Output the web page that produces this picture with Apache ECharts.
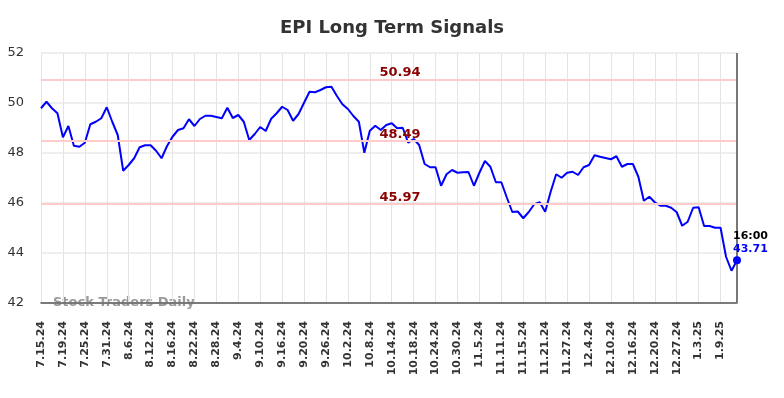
<!DOCTYPE html>
<html>
<head>
    <meta charset="utf-8">
    <style>
        html, body { margin: 0; padding: 0; background: #fff; }
        #chart { width: 784px; height: 398px; }
    </style>
    <script src="https://cdn.jsdelivr.net/npm/echarts@6/dist/echarts.min.js"></script>
</head>
<body>
<div id="chart"></div>
<script>
// trading days
var dates = [
  '7.15.24','7.16.24','7.17.24','7.18.24','7.19.24','7.22.24','7.23.24','7.24.24','7.25.24','7.26.24','7.29.24','7.30.24','7.31.24',
  '8.1.24','8.2.24','8.5.24','8.6.24','8.7.24','8.8.24','8.9.24','8.12.24','8.13.24','8.14.24','8.15.24','8.16.24','8.19.24','8.20.24','8.21.24','8.22.24','8.23.24','8.26.24','8.27.24','8.28.24','8.29.24','8.30.24',
  '9.3.24','9.4.24','9.5.24','9.6.24','9.9.24','9.10.24','9.11.24','9.12.24','9.13.24','9.16.24','9.17.24','9.18.24','9.19.24','9.20.24','9.23.24','9.24.24','9.25.24','9.26.24','9.27.24','9.30.24',
  '10.1.24','10.2.24','10.3.24','10.4.24','10.7.24','10.8.24','10.9.24','10.10.24','10.11.24','10.14.24','10.15.24','10.16.24','10.17.24','10.18.24','10.21.24','10.22.24','10.23.24','10.24.24','10.25.24','10.28.24','10.29.24','10.30.24','10.31.24',
  '11.1.24','11.4.24','11.5.24','11.6.24','11.7.24','11.8.24','11.11.24','11.12.24','11.13.24','11.14.24','11.15.24','11.18.24','11.19.24','11.20.24','11.21.24','11.22.24','11.25.24','11.26.24','11.27.24','11.29.24',
  '12.2.24','12.3.24','12.4.24','12.5.24','12.6.24','12.9.24','12.10.24','12.11.24','12.12.24','12.13.24','12.16.24','12.17.24','12.18.24','12.19.24','12.20.24','12.23.24','12.24.24','12.26.24','12.27.24','12.30.24','12.31.24',
  '1.2.25','1.3.25','1.6.25','1.7.25','1.8.25','1.9.25','1.10.25','1.13.25','1.14.25'
];

// closing prices
var prices = [
  49.79,50.05,49.79,49.59,48.63,49.08,48.29,48.25,48.41,49.15,49.25,49.39,49.83,
  49.25,48.72,47.29,47.52,47.79,48.23,48.31,48.31,48.09,47.79,48.28,48.65,48.92,48.99,49.35,49.08,49.36,49.49,49.49,49.44,49.39,49.81,
  49.40,49.52,49.25,48.52,48.76,49.04,48.88,49.37,49.59,49.85,49.72,49.29,49.56,50.01,50.45,50.43,50.52,50.63,50.65,50.28,
  49.95,49.76,49.48,49.25,48.01,48.89,49.09,48.92,49.12,49.19,48.99,49.01,48.41,48.56,48.32,47.56,47.43,47.43,46.69,47.15,47.32,47.21,47.23,
  47.24,46.69,47.21,47.68,47.45,46.83,46.83,46.22,45.64,45.66,45.39,45.64,45.95,46.03,45.65,46.45,47.15,47.01,47.21,47.25,
  47.12,47.43,47.52,47.91,47.85,47.80,47.75,47.87,47.45,47.56,47.56,47.05,46.09,46.25,46.03,45.89,45.89,45.81,45.63,45.09,45.25,
  45.81,45.83,45.08,45.08,45.01,45.01,43.85,43.29,43.71
];

var signalLevels = [50.94, 48.49, 45.97];
var lastTime = '16:00';

var lastIdx = prices.length - 1;
var font = 'DejaVu Sans';

var myChart = echarts.init(document.getElementById('chart'));
var option = {
  animation: false,
  title: {
    text: 'EPI Long Term Signals',
    left: 'center',
    top: 14,
    textStyle: { fontFamily: font, fontSize: 18, fontWeight: 'bold', color: '#333' }
  },
  grid: { left: 41, right: 47, top: 53, bottom: 95 },
  xAxis: {
    type: 'category',
    boundaryGap: false,
    data: dates,
    axisLine: { lineStyle: { color: '#555', width: 1.5 } },
    axisTick: { show: false },
    axisLabel: {
      interval: 3,
      rotate: 90,
      margin: 18,
      fontFamily: font,
      fontSize: 11,
      fontWeight: 'bold',
      color: '#333'
    },
    splitLine: { show: true, interval: 3, lineStyle: { color: '#e4e4e4', width: 1 } }
  },
  yAxis: {
    type: 'value',
    min: 42,
    max: 52,
    interval: 2,
    axisLine: { show: false },
    axisTick: { show: false },
    axisLabel: { fontFamily: font, fontSize: 13, color: '#333', margin: 17 },
    splitLine: { lineStyle: { color: '#e8e8e8', width: 1.5 } }
  },
  graphic: [{
    type: 'text',
    left: 53,
    top: 296,
    style: { text: 'Stock Traders Daily', fontFamily: font, fontSize: 13, fontWeight: 'bold', fill: '#999' }
  }],
  series: [{
    type: 'line',
    data: prices,
    showSymbol: false,
    lineStyle: { color: '#0000ff', width: 2 },
    itemStyle: { color: '#0000ff' },
    markLine: {
      silent: true,
      symbol: 'none',
      animation: false,
      data: signalLevels.map(function (v) {
        return {
          yAxis: v,
          lineStyle: { color: '#ffcccc', width: 2, type: 'solid' },
          label: {
            show: true,
            position: 'middle',
            formatter: v.toFixed(2),
            padding: [0, 0, 0, 22],
            distance: 0,
            fontFamily: font,
            fontSize: 13,
            fontWeight: 'bold',
            color: '#8b0000'
          }
        };
      }).concat([{
        xAxis: lastIdx,
        lineStyle: { color: '#777', width: 2, type: 'solid' },
        label: { show: false }
      }])
    },
    markPoint: {
      silent: true,
      animation: false,
      data: [{
        coord: [lastIdx, prices[lastIdx]],
        symbol: 'circle',
        symbolSize: 8,
        itemStyle: { color: '#0000ff' },
        label: {
          show: true,
          position: [0, -27],
          align: 'left',
          formatter: '{t|' + lastTime + '}\n{v|' + prices[lastIdx].toFixed(2) + '}',
          rich: {
            t: { fontFamily: font, fontSize: 11, fontWeight: 'bold', color: '#000', lineHeight: 13 },
            v: { fontFamily: font, fontSize: 11, fontWeight: 'bold', color: '#0000ff', lineHeight: 13 }
          }
        }
      }]
    }
  }]
};
myChart.setOption(option);
</script>
</body>
</html>
